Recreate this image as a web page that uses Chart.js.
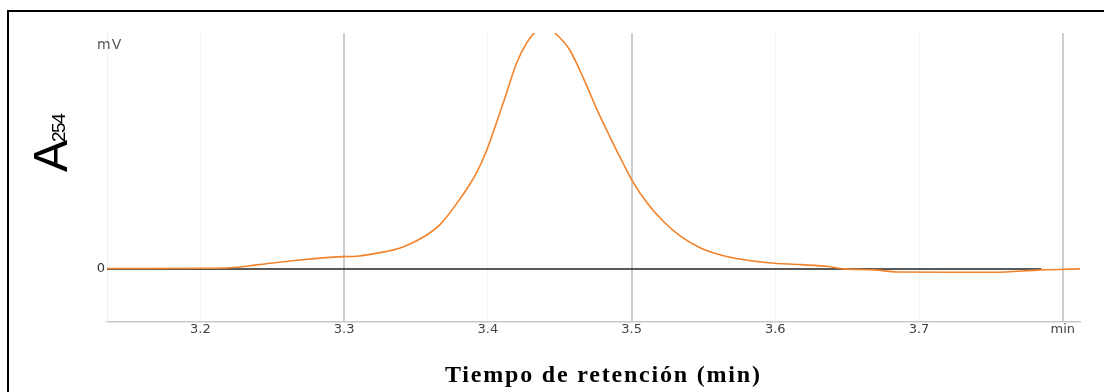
<!DOCTYPE html>
<html>
<head>
<meta charset="utf-8">
<script src="https://cdn.jsdelivr.net/npm/chart.js"></script>
<style>
  html, body { margin: 0; padding: 0; background: #fff; overflow: hidden; }
  #frame { position: absolute; left: 7px; top: 10px; width: 1120px; height: 420px; border: 2px solid #000; box-sizing: border-box; }
  #chart { position: absolute; left: 0; top: 0; }
  .ylab { position: absolute; left: 27px; top: 172px; transform: rotate(-90deg); transform-origin: left top;
          font: 48px/48px "Liberation Sans", Arial, sans-serif; color: #000; white-space: nowrap; }
  .ylab span { font-size: 19px; letter-spacing: -1.5px; margin-left: -2px; vertical-align: 2px; }
  .xlab { position: absolute; left: 445px; top: 362px; font: bold 24px/24px "Liberation Serif", "Times New Roman", serif;
          letter-spacing: 1.8px; color: #000; white-space: nowrap; }
  .unit { position: absolute; left: 97px; top: 36px; font: 14px "DejaVu Sans", sans-serif; letter-spacing: 1px; color: #555; }
</style>
</head>
<body>
<div id="frame"></div>
<canvas id="chart" width="1104" height="392"></canvas>
<div class="ylab">A<span>254</span></div>
<div class="unit">mV</div>
<div class="xlab">Tiempo de retención (min)</div>
<script>
// retention time (min) and detector signal
const times = [3.135, 3.165, 3.200, 3.221, 3.239, 3.269, 3.299, 3.309, 3.325, 3.339, 3.348, 3.359, 3.367,
  3.381, 3.392, 3.399, 3.406, 3.413, 3.420, 3.427, 3.433, 3.440, 3.446, 3.457, 3.467, 3.476, 3.485,
  3.494, 3.501, 3.511, 3.522, 3.534, 3.548, 3.562, 3.575, 3.595, 3.618, 3.637, 3.648, 3.669, 3.685,
  3.722, 3.752, 3.785, 3.812];
const signal = [0.2, 0.2, 0.3, 0.5, 1.7, 3.8, 5.2, 5.4, 6.9, 8.9, 11.2, 15.0, 19.0,
  30.0, 40.6, 50.0, 62.0, 74.6, 87.3, 95.8, 100.5, 104, 100.5, 92.8, 80.1, 67.4, 55.9,
  44.9, 36.8, 27.8, 20.2, 13.9, 8.9, 5.9, 4.2, 2.6, 1.8, 1.0, 0.0, -0.4, -1.3,
  -1.4, -1.4, -0.4, 0.0];

// integration baseline
const baselineTimes = [3.135, 3.785];
const baselineValues = [0, 0];

const xTickValues = [3.2, 3.3, 3.4, 3.5, 3.6, 3.7, 3.8];
const xTickLabels = ['3.2', '3.3', '3.4', '3.5', '3.6', '3.7', 'min'];
const strongGrid = [3.3, 3.5, 3.8];

const near = (a, b) => Math.abs(a - b) < 1e-6;

new Chart(document.getElementById('chart'), {
  type: 'line',
  data: {
    datasets: [
      {
        data: times.map((t, i) => ({ x: t, y: signal[i] })),
        borderColor: '#f2822a',
        borderWidth: 1.6,
        pointRadius: 0,
        cubicInterpolationMode: 'monotone',
        clip: 0,
        order: 1
      },
      {
        data: baselineTimes.map((t, i) => ({ x: t, y: baselineValues[i] })),
        borderColor: '#222',
        borderWidth: 1.5,
        pointRadius: 0,
        order: 2
      }
    ]
  },
  options: {
    responsive: false,
    devicePixelRatio: 1,
    animation: false,
    layout: { padding: { left: 0, right: 24, top: 33, bottom: 0 } },
    plugins: { legend: { display: false }, tooltip: { enabled: false } },
    scales: {
      x: {
        type: 'linear',
        min: 3.135,
        max: 3.812,
        afterFit: s => { s.height = 70; },
        afterBuildTicks: s => { s.ticks = xTickValues.map(v => ({ value: v })); },
        border: { color: '#c8c8c8', width: 1.5 },
        grid: {
          drawTicks: false,
          color: c => strongGrid.some(v => near(v, c.tick.value)) ? '#cdcdcd' : '#f3f3f3',
          lineWidth: c => strongGrid.some(v => near(v, c.tick.value)) ? 2 : 1
        },
        ticks: {
          padding: 0,
          maxRotation: 0,
          color: '#444',
          font: { family: 'DejaVu Sans', size: 13 },
          callback: (v) => {
            const i = xTickValues.findIndex(t => near(t, v));
            return i >= 0 ? xTickLabels[i] : '';
          }
        }
      },
      y: {
        min: -22.5,
        max: 100,
        afterFit: s => { s.width = 107; },
        afterBuildTicks: s => { s.ticks = [{ value: 0 }]; },
        border: { color: '#efefef', width: 1 },
        grid: { display: false, drawTicks: false },
        ticks: {
          padding: 2,
          color: '#333',
          font: { family: 'DejaVu Sans', size: 13 },
          callback: v => String(v)
        }
      }
    }
  }
});
</script>
</body>
</html>
